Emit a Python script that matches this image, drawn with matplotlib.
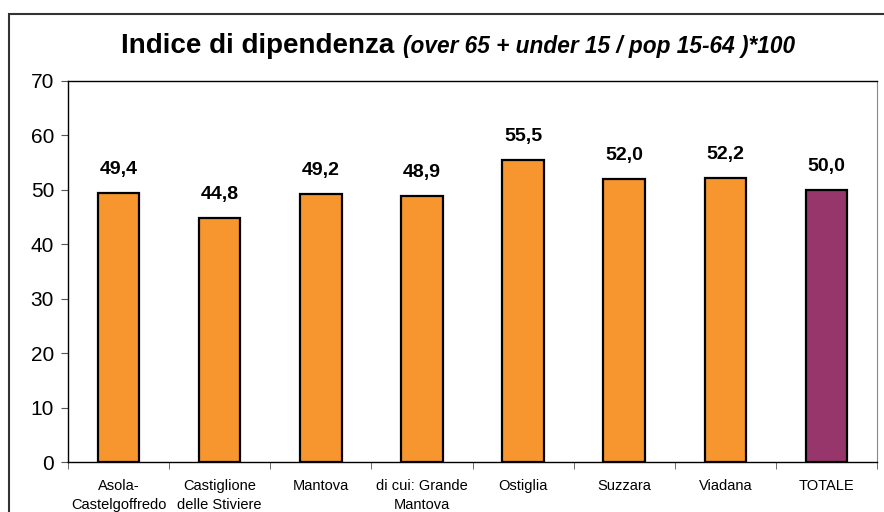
import matplotlib.pyplot as plt
from matplotlib.patches import Rectangle

plt.rcParams['font.family'] = ['Liberation Sans', 'DejaVu Sans']

categories = ["Asola-\nCastelgoffredo", "Castiglione\ndelle Stiviere", "Mantova",
              "di cui: Grande\nMantova", "Ostiglia", "Suzzara", "Viadana", "TOTALE"]
values = [49.4, 44.8, 49.2, 48.9, 55.5, 52.0, 52.2, 50.0]
colors = ["#F7962F"] * 7 + ["#97366B"]

fig = plt.figure(figsize=(8.84, 5.12), dpi=100)
ax = fig.add_axes([68 / 884, 1 - 462 / 512, (877 - 68) / 884, (462 - 81) / 512])

x = range(len(categories))
bars = ax.bar(x, values, width=0.41, color=colors, edgecolor="black", linewidth=1.6)

for b, v in zip(bars, values):
    ax.annotate(f"{v:.1f}".replace(".", ","), (b.get_x() + b.get_width() / 2, v),
                xytext=(0, 11), textcoords="offset points", ha="center", va="bottom",
                fontsize=14, fontweight="bold")

ax.set_xlim(-0.5, len(categories) - 0.5)
ax.set_ylim(0, 70)
ax.set_yticks(range(0, 71, 10))
ax.tick_params(axis="y", labelsize=15, length=5, color="#555555", pad=5)

ax.set_xticks(list(x))
ax.set_xticklabels(categories, fontsize=10.5, linespacing=1.45)
ax.tick_params(axis="x", which="major", length=0, pad=12)
ax.set_xticks([i - 0.5 for i in range(len(categories) + 1)], minor=True)
ax.tick_params(axis="x", which="minor", length=5, color="#555555")

for s in ["top", "left", "bottom"]:
    ax.spines[s].set_color("black")
    ax.spines[s].set_linewidth(1.0)
ax.spines["right"].set_color("#888888")

# cornice del grafico
fig.patches.append(Rectangle((8.5 / 884, -0.1), 1.2, 1.1 - 14 / 512,
                             transform=fig.transFigure, fill=False,
                             edgecolor="#333333", linewidth=1.5))

fig.text(121 / 884, 1 - 53 / 512, "Indice di dipendenza", fontsize=20,
         fontweight="bold", ha="left", va="baseline")
fig.text(403 / 884, 1 - 53 / 512, "(over 65 + under 15 / pop 15-64 )*100",
         fontsize=16.3, fontweight="bold", fontstyle="italic", ha="left", va="baseline")

fig.savefig("out.png", dpi=100)
